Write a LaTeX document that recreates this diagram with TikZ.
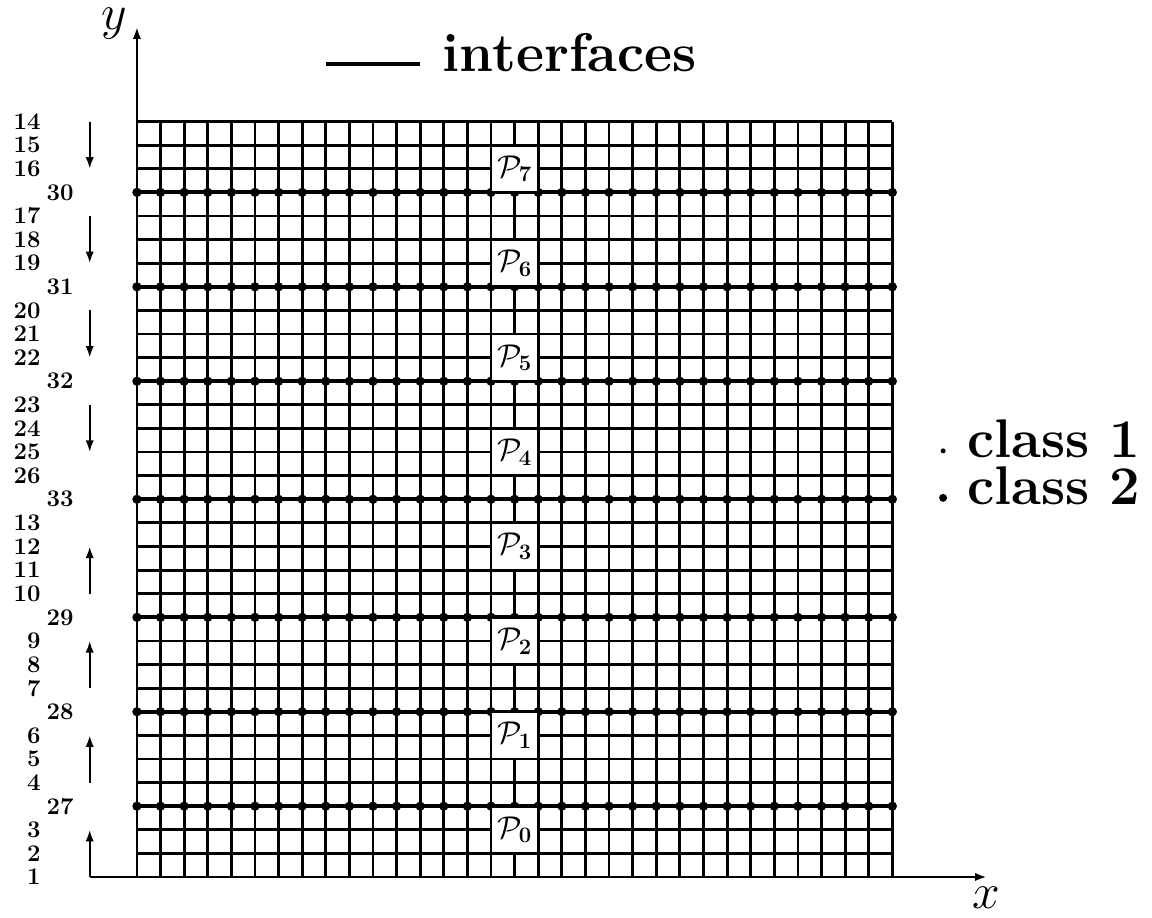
\RequirePackage{fix-cm}
\documentclass[tikz,border=0pt]{standalone}
\usepackage{tikz}
\usetikzlibrary{arrows.meta}
\tikzset{
  gridline/.style={line width=1.7pt},
  ifline/.style={line width=2.3pt},
  numlbl/.style={anchor=east,inner sep=0pt,font=\fontsize{14.4}{16}\selectfont\bfseries},
  sublbl/.style={fill=white,inner sep=0pt,minimum width=26.7pt,minimum height=26.7pt,font=\fontsize{19}{22}\selectfont},
  bigtxt/.style={anchor=base west,inner sep=0pt,font=\fontsize{32.8}{38}\selectfont\bfseries},
  axlbl/.style={inner sep=0pt,font=\fontsize{30}{36}\selectfont},
}

\begin{document}
\begin{tikzpicture}[x=.5cm,y=.5cm,>={Latex[length=7pt,width=5pt]}]
\useasboundingbox (-5.8,-1.7) rectangle (43,37.15);
\coordinate (xs) at (-2,0);
\coordinate (xe) at (36,0);
\coordinate (O) at (0,0);
\coordinate (ye) at (0,36);
% grid
\foreach \i in {0,...,32} {
  \draw[gridline] (\i,0) -- (\i,32);
  \draw[gridline] (0,\i) -- (32,\i);
}
% interfaces
\foreach \j in {3,7,11,16,21,25,29} {
  \draw[ifline] (0,\j) -- (32,\j);
  \foreach \i in {0,...,32} \fill (\i,\j) circle (2.8pt);
}
% subdomains
\foreach \k in {0,...,7} \node[sublbl] (p\k) at (16,2+4*\k) {$\mathcal{P}_{\mathbf{\k}}$};
% axes
\draw[line width=1.5pt,->] (xs) -- (xe);
\draw[line width=1.5pt,->] (O) -- (ye);
\node[axlbl] (xl) at (36,-0.9) {$x$};
\node[axlbl] (yl) at (-0.97,36.15) {$y$};
% numbering of the lines
\foreach \j/\t in {0/1,1/2,2/3,4/4,5/5,6/6,8/7,9/8,10/9,12/10,13/11,14/12,15/13,17/26,18/25,19/24,20/23,22/22,23/21,24/20,26/19,27/18,28/17,30/16,31/15,32/14}
  \node[numlbl] (n\t) at (-4.07,\j) {\t};
\foreach \j/\t in {3/27,7/28,11/29,16/33,21/32,25/31,29/30}
  \node[numlbl] (n\t) at (-2.67,\j) {\t};
\foreach \a/\b in {32/30,28/26,24/22,20/18,12/14,8/10,4/6,0/2}
  \draw[line width=1.2pt,->] (-2,\a) -- (-2,\b);
% legend
\draw[ifline] (8,34.45) -- (12,34.45);
\node[bigtxt] (leg) at (12.95,34.1) {interfaces};
\fill (34.15,18.05) circle (1.5pt);
\fill (34.15,16.06) circle (2.4pt);
\node[bigtxt] (c1) at (35.15,17.75) {class 1};
\node[bigtxt] (c2) at (35.15,15.76) {class 2};
\end{tikzpicture}
\end{document}
